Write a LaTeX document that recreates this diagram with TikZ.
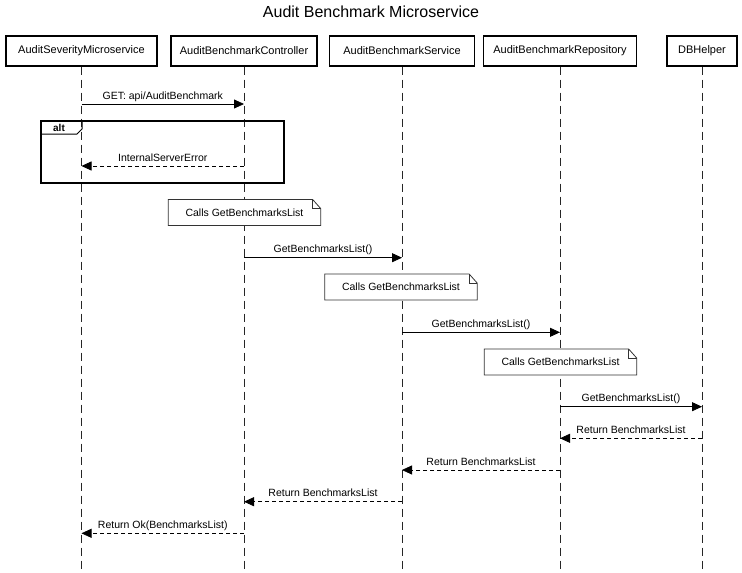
\documentclass[tikz,border=0pt]{standalone}
\usepackage{fontspec}
\setmainfont{Liberation Sans}
\usetikzlibrary{arrows.meta}
\begin{document}
\begin{tikzpicture}[x=1pt,y=-1pt,
  actor/.style={draw,line width=1.2pt,minimum height=30pt,inner sep=0pt,font=\fontsize{11}{13}\selectfont},
  lifeline/.style={draw=black!85,line width=0.9pt,dash pattern=on 8pt off 5pt},
  msg/.style={line width=0.8pt,-{Triangle[length=10pt,width=9pt]}},
  ret/.style={msg,dash pattern=on 4pt off 3pt},
  lbl/.style={font=\fontsize{10.5}{12}\selectfont,anchor=base,inner sep=0pt},
  notebox/.style={fill=white,minimum width=152pt,minimum height=25.5pt,inner sep=0pt,font=\fontsize{10.5}{12}\selectfont},
  noteline/.style={draw=black!80,line width=0.8pt},
  frame/.style={draw,line width=1.2pt}]
\useasboundingbox (0,0) rectangle (742,573);
\fill[white] (0,0) rectangle (742,573);
\node (title) at (371,12) {\fontsize{16}{19}\selectfont Audit Benchmark Microservice};

% participants
\node[actor,minimum width=151pt] (p1) at (81.5,51) {AuditSeverityMicroservice};
\node[actor,minimum width=146pt] (p2) at (244,51) {AuditBenchmarkController};
\node[actor,minimum width=145pt] (p3) at (402,51) {AuditBenchmarkService};
\node[actor,minimum width=153pt] (p4) at (560,51) {AuditBenchmarkRepository};
\node[actor,minimum width=70pt] (p5) at (702,51) {DBHelper};

% lifeline ends
\coordinate (e1) at (81.5,573);
\coordinate (e2) at (244,573);
\coordinate (e3) at (402,573);
\coordinate (e4) at (560,573);
\coordinate (e5) at (702,573);
\draw[lifeline] (p1.south) -- (e1);
\draw[lifeline] (p2.south) -- (e2);
\draw[lifeline] (p3.south) -- (e3);
\draw[lifeline] (p4.south) -- (e4);
\draw[lifeline] (p5.south) -- (e5);

% message 1
\coordinate (m1a) at (81.5,104);
\coordinate (m1b) at (244,104);
\draw[msg] (m1a) -- (m1b);
\node[lbl] (l1) at (162.75,99) {GET: api/AuditBenchmark};

% alt frame
\coordinate (altnw) at (41,121);
\coordinate (altse) at (284,183);
\draw[frame] (altnw) rectangle (altse);
\coordinate (tag1) at (41,134);
\coordinate (tag2) at (77,134);
\coordinate (tag3) at (82,129);
\coordinate (tag4) at (82,121);
\draw[line width=1pt] (tag1) -- (tag2) -- (tag3) -- (tag4);
\node[font=\fontsize{10}{12}\selectfont\bfseries,inner sep=0pt] (alttext) at (59,127.5) {alt};

\coordinate (m2a) at (244,166);
\coordinate (m2b) at (81.5,166);
\draw[ret] (m2a) -- (m2b);
\node[lbl] (l2) at (162.75,161) {InternalServerError};

% note 1
\node[notebox] (n1) at (244.5,212.5) {Calls GetBenchmarksList};
\draw[noteline] (n1.south west) -- (n1.north west) -- ([xshift=-8pt]n1.north east) -- ([yshift=-9pt]n1.north east) -- (n1.south east) -- cycle;
\draw[noteline] ([xshift=-8pt]n1.north east) -- ([xshift=-8pt,yshift=-9pt]n1.north east) -- ([yshift=-9pt]n1.north east);

\coordinate (m3a) at (244,257.7);
\coordinate (m3b) at (402,257.7);
\draw[msg] (m3a) -- (m3b);
\node[lbl] (l3) at (323,252.7) {GetBenchmarksList()};

% note 2
\node[notebox] (n2) at (401,287) {Calls GetBenchmarksList};
\draw[noteline] (n2.south west) -- (n2.north west) -- ([xshift=-8pt]n2.north east) -- ([yshift=-9pt]n2.north east) -- (n2.south east) -- cycle;
\draw[noteline] ([xshift=-8pt]n2.north east) -- ([xshift=-8pt,yshift=-9pt]n2.north east) -- ([yshift=-9pt]n2.north east);

\coordinate (m4a) at (402,332.3);
\coordinate (m4b) at (560,332.3);
\draw[msg] (m4a) -- (m4b);
\node[lbl] (l4) at (481,327.3) {GetBenchmarksList()};

% note 3
\node[notebox] (n3) at (560.5,362) {Calls GetBenchmarksList};
\draw[noteline] (n3.south west) -- (n3.north west) -- ([xshift=-8pt]n3.north east) -- ([yshift=-9pt]n3.north east) -- (n3.south east) -- cycle;
\draw[noteline] ([xshift=-8pt]n3.north east) -- ([xshift=-8pt,yshift=-9pt]n3.north east) -- ([yshift=-9pt]n3.north east);

\coordinate (m5a) at (560,406.7);
\coordinate (m5b) at (702,406.7);
\draw[msg] (m5a) -- (m5b);
\node[lbl] (l5) at (631,401.7) {GetBenchmarksList()};

\coordinate (m6a) at (702,438.3);
\coordinate (m6b) at (560,438.3);
\draw[ret] (m6a) -- (m6b);
\node[lbl] (l6) at (631,433.3) {Return BenchmarksList};

\coordinate (m7a) at (560,470);
\coordinate (m7b) at (402,470);
\draw[ret] (m7a) -- (m7b);
\node[lbl] (l7) at (481,465) {Return BenchmarksList};

\coordinate (m8a) at (402,501.7);
\coordinate (m8b) at (244,501.7);
\draw[ret] (m8a) -- (m8b);
\node[lbl] (l8) at (323,496.7) {Return BenchmarksList};

\coordinate (m9a) at (244,533.3);
\coordinate (m9b) at (81.5,533.3);
\draw[ret] (m9a) -- (m9b);
\node[lbl] (l9) at (162.75,528.3) {Return Ok(BenchmarksList)};
\end{tikzpicture}
\end{document}
